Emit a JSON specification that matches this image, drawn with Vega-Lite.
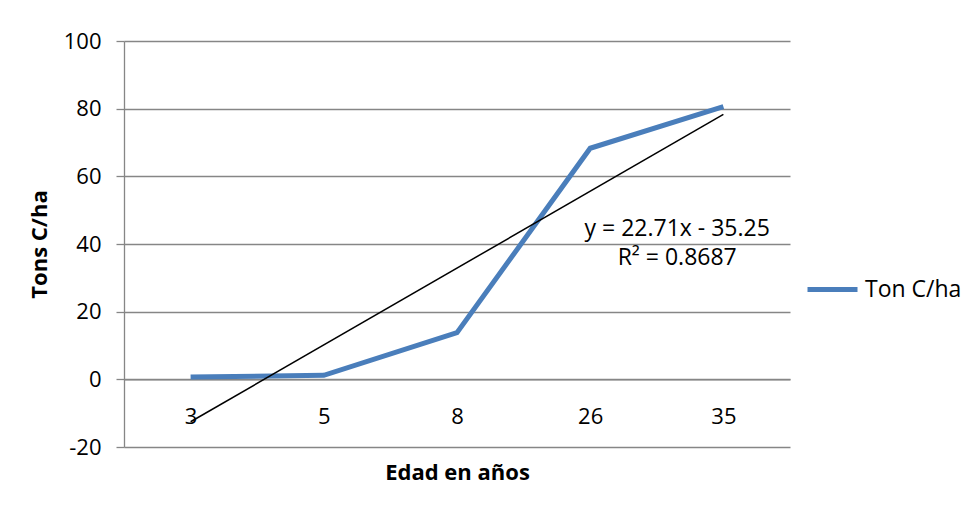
{
  "$schema": "https://vega.github.io/schema/vega-lite/v6.json",
  "width": 666,
  "height": 406,
  "autosize": "none",
  "padding": {"left": 124, "top": 41, "right": 171, "bottom": 68},
  "background": "white",
  "config": {
    "view": {"stroke": null},
    "font": "Open Sans",
    "text": {"font": "Open Sans"}
  },
  "datasets": {
    "serie": [
      {"Edad": "3", "Serie": "Ton C/ha", "Valor": 0.7},
      {"Edad": "5", "Serie": "Ton C/ha", "Valor": 1.2},
      {"Edad": "8", "Serie": "Ton C/ha", "Valor": 13.8},
      {"Edad": "26", "Serie": "Ton C/ha", "Valor": 68.3},
      {"Edad": "35", "Serie": "Ton C/ha", "Valor": 80.6}
    ],
    "tendencia": [
      {"Edad": "3", "Valor": -12.54},
      {"Edad": "35", "Valor": 78.3}
    ],
    "etiquetas": [
      {"Edad": "26", "Valor": 44.5, "Texto": "y = 22.71x - 35.25"},
      {"Edad": "26", "Valor": 35.9, "Texto": "R² = 0.8687"}
    ]
  },
  "encoding": {
    "x": {
      "field": "Edad",
      "type": "ordinal",
      "sort": ["3", "5", "8", "26", "35"],
      "scale": {"type": "point", "padding": 0.5, "domain": ["3", "5", "8", "26", "35"]},
      "axis": {
        "title": "Edad en años",
        "titleFontSize": 22,
        "titleFontWeight": "bold",
        "titleColor": "black",
        "titlePadding": 35,
        "labelAngle": 0,
        "labelFontSize": 22,
        "labelColor": "black",
        "labelPadding": 27,
        "ticks": false,
        "domain": true,
        "domainColor": "#868686",
        "domainWidth": 1.3,
        "offset": -67.67,
        "grid": false
      }
    },
    "y": {
      "field": "Valor",
      "type": "quantitative",
      "scale": {"domain": [-20, 100], "nice": false, "zero": false},
      "axis": {
        "title": "Tons C/ha",
        "titleFontSize": 22,
        "titleFontWeight": "bold",
        "titleColor": "black",
        "titlePadding": 12,
        "values": [-20, 0, 20, 40, 60, 80, 100],
        "labelExpr": "'' + datum.value",
        "labelFontSize": 22,
        "labelColor": "black",
        "labelPadding": 15,
        "tickSize": 8,
        "tickColor": "#868686",
        "tickWidth": 1.3,
        "domainColor": "#868686",
        "domainWidth": 1.3,
        "grid": true,
        "gridColor": "#868686",
        "gridWidth": 1.3,
        "gridOpacity": 1
      }
    }
  },
  "layer": [
    {
      "data": {"name": "serie"},
      "mark": {"type": "line", "strokeWidth": 5, "strokeJoin": "miter"},
      "encoding": {
        "color": {
          "field": "Serie",
          "type": "nominal",
          "scale": {"domain": ["Ton C/ha"], "range": ["#4A7EBB"]},
          "legend": {
            "title": null,
            "orient": "none",
            "legendX": 681,
            "legendY": 221,
            "symbolType": "stroke",
            "symbolSize": 2500,
            "symbolStrokeWidth": 5,
            "labelFontSize": 23,
            "labelColor": "black",
            "labelOffset": 5
          }
        }
      }
    },
    {
      "data": {"name": "tendencia"},
      "mark": {"type": "line", "color": "black", "strokeWidth": 1.5},
      "encoding": {}
    },
    {
      "data": {"name": "etiquetas"},
      "mark": {"type": "text", "fontSize": 23, "color": "black", "align": "center", "baseline": "middle", "dx": 87},
      "encoding": {"text": {"field": "Texto"}}
    }
  ]
}
